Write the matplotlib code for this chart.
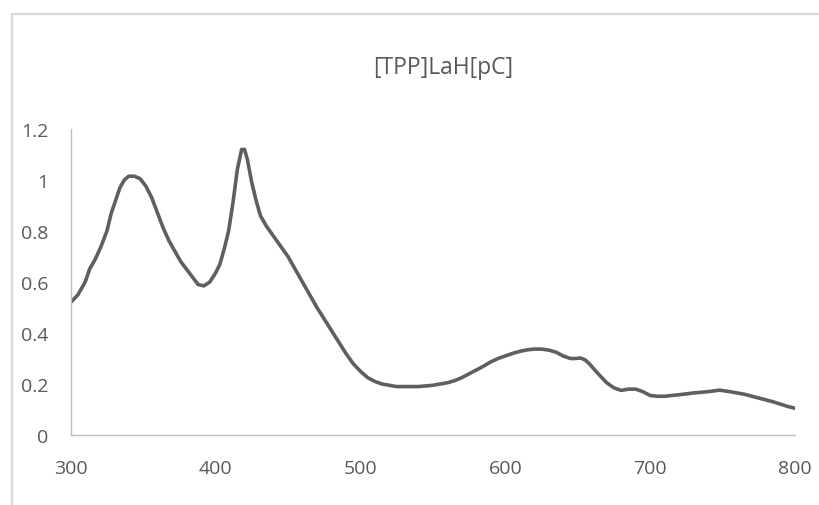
import matplotlib.pyplot as plt
from matplotlib.patches import Rectangle

# Absorption spectrum, wavelength (nm) vs absorbance
wavelength = [300, 305, 310, 313, 317, 321, 325, 328, 331, 334, 337, 340, 344, 348,
              352, 356, 360, 364, 368, 372, 376, 380, 384, 388, 392, 396, 400, 403,
              406, 409, 412, 415, 418, 420, 422, 425, 428, 431, 435, 440, 445, 450,
              455, 460, 465, 470, 475, 480, 485, 490, 495, 500, 505, 510, 515, 520,
              525, 530, 540, 550, 560, 565, 570, 575, 580, 585, 590, 595, 600, 605,
              610, 615, 620, 625, 630, 635, 640, 645, 648, 652, 655, 658, 661, 665,
              670, 675, 680, 685, 690, 695, 700, 705, 710, 720, 730, 740, 748, 755,
              765, 775, 785, 795, 800]
absorbance = [0.52, 0.55, 0.60, 0.65, 0.69, 0.74, 0.80, 0.87, 0.92, 0.97, 1.00, 1.015,
              1.015, 1.005, 0.975, 0.93, 0.87, 0.81, 0.76, 0.72, 0.68, 0.65, 0.62, 0.59,
              0.585, 0.60, 0.635, 0.67, 0.73, 0.80, 0.91, 1.04, 1.12, 1.12, 1.08, 0.99,
              0.92, 0.86, 0.82, 0.78, 0.74, 0.70, 0.65, 0.60, 0.55, 0.50, 0.455, 0.41,
              0.365, 0.32, 0.28, 0.25, 0.225, 0.21, 0.20, 0.195, 0.19, 0.19, 0.19, 0.195,
              0.205, 0.213, 0.225, 0.24, 0.255, 0.27, 0.287, 0.30, 0.31, 0.32, 0.328,
              0.334, 0.337, 0.337, 0.333, 0.325, 0.31, 0.30, 0.30, 0.302, 0.295, 0.28,
              0.26, 0.235, 0.205, 0.185, 0.175, 0.18, 0.18, 0.17, 0.155, 0.152, 0.152,
              0.158, 0.165, 0.17, 0.176, 0.17, 0.16, 0.145, 0.13, 0.112, 0.105]

x_ticks = [300, 400, 500, 600, 700, 800]
y_ticks = [0, 0.2, 0.4, 0.6, 0.8, 1.0, 1.2]
y_labels = ["0", "0.2", "0.4", "0.6", "0.8", "1", "1.2"]

plt.rcParams['font.family'] = ['Open Sans', 'DejaVu Sans']
text_color = '#595959'
axis_color = '#bfbfbf'

fig = plt.figure(figsize=(8.19, 5.06), dpi=100)
ax = fig.add_axes([0.0863, 0.1383, 0.8844, 0.6047])

# chart frame
fig.patches.append(Rectangle((11.5 / 819, -0.1), 1.2, 1.1 - 14.5 / 506,
                             transform=fig.transFigure, fill=False,
                             edgecolor='#d9d9d9', linewidth=1.6))

ax.plot(wavelength, absorbance, color='#5f5f5f', linewidth=2.6,
        solid_capstyle='round', solid_joinstyle='round')

ax.set_xlim(300, 800)
ax.set_ylim(0, 1.2)
ax.set_xticks(x_ticks)
ax.set_yticks(y_ticks)
ax.set_yticklabels(y_labels)
ax.tick_params(length=0, labelsize=14, labelcolor=text_color)
ax.tick_params(axis='y', pad=16)
ax.tick_params(axis='x', pad=17)

for side in ['top', 'right']:
    ax.spines[side].set_visible(False)
for side in ['left', 'bottom']:
    ax.spines[side].set_color(axis_color)
    ax.spines[side].set_linewidth(1.0)

fig.text(0.541, 0.866, "[TPP]LaH[pC]", ha='center', va='center',
         fontsize=16.5, color=text_color)

fig.savefig('out.png', dpi=100)
